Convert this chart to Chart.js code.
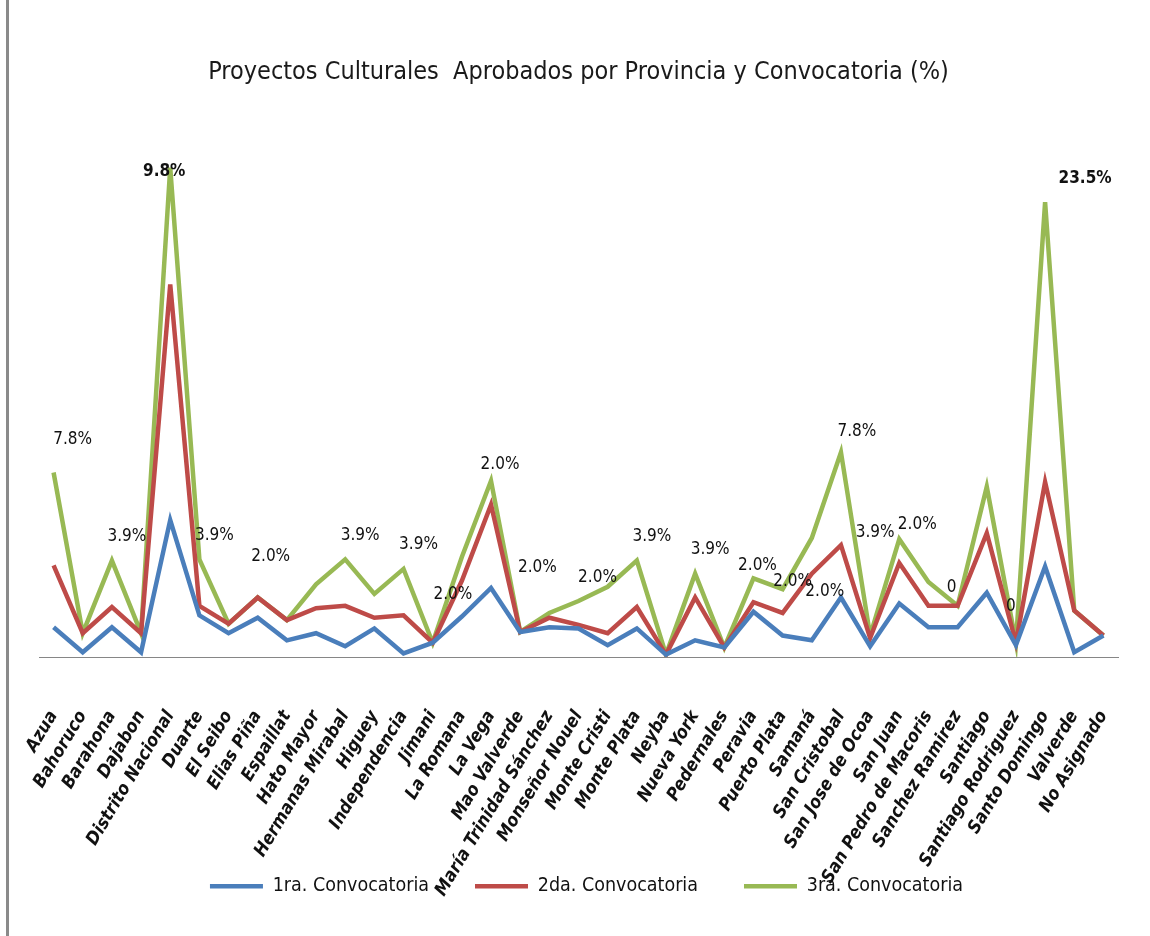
<!DOCTYPE html>
<html lang="es">
<head>
<meta charset="utf-8">
<title>Proyectos Culturales Aprobados</title>
<script src="https://cdn.jsdelivr.net/npm/chart.js@4.4.0/dist/chart.umd.min.js"></script>
<style>
    html, body { margin: 0; padding: 0; background: #fff; }
    #wrap { position: relative; width: 1150px; height: 936px; }
    #wrap::before {
        content: ''; position: absolute; left: 6px; top: 0; bottom: 0;
        width: 3px; background: #8a8a8a;
    }
</style>
</head>
<body>
<div id="wrap"><canvas id="provChart" width="1150" height="936"></canvas></div>
<script>
// ================================================
// DATOS
// ================================================

const provincias = [
    'Azua', 'Bahoruco', 'Barahona', 'Dajabon', 'Distrito Nacional', 'Duarte',
    'El Seibo', 'Elias Piña', 'Espaillat', 'Hato Mayor', 'Hermanas Mirabal',
    'Higuey', 'Independencia', 'Jimani', 'La Romana', 'La Vega', 'Mao Valverde',
    'María Trinidad Sánchez', 'Monseñor Nouel', 'Monte Cristi', 'Monte Plata',
    'Neyba', 'Nueva York', 'Pedernales', 'Peravia', 'Puerto Plata', 'Samaná',
    'San Cristobal', 'San Jose de Ocoa', 'San Juan', 'San Pedro de Macoris',
    'Sanchez Ramirez', 'Santiago', 'Santiago Rodriguez', 'Santo Domingo',
    'Valverde', 'No Asignado'
];

// valores (%) por convocatoria - grafico de lineas apiladas
const conv1 = [2.5, 0.4, 2.5, 0.4, 11.5, 3.5, 2.0, 3.3, 1.4, 2.0, 0.9, 2.4, 0.3, 1.2, 3.4, 5.8, 2.1, 2.5, 2.4,
               1.0, 2.4, 0.2, 1.4, 0.8, 3.8, 1.8, 1.4, 5.0, 0.9, 4.5, 2.5, 2.5, 5.4, 1.0, 7.6, 0.4, 1.8];
const conv2 = [5.2, 1.6, 1.7, 1.6, 19.8, 0.8, 0.8, 1.7, 1.7, 2.1, 3.4, 0.9, 3.2, 0.0, 3.0, 7.0, 0.0, 0.8, 0.3,
               1.0, 1.8, 0.0, 3.6, 0.0, 0.8, 1.9, 5.6, 4.4, 0.7, 3.4, 1.8, 1.8, 5.0, 0.2, 7.1, 3.5, 0.0];
const conv3 = [7.8, 0.0, 3.9, 0.0, 9.8, 3.9, 0.0, 0.0, 0.0, 2.0, 3.9, 2.0, 3.9, 0.0, 2.0, 2.0, 0.0, 0.4, 2.0,
               3.9, 3.9, 0.0, 2.0, 0.0, 2.0, 2.0, 3.0, 7.8, 0.2, 2.0, 2.0, 0.0, 3.9, 0.0, 23.5, 0.0, 0.0];

// etiquetas de datos tal como aparecen sobre la 3ra. convocatoria
const etiquetas = [
    '7.8%', null, '3.9%', null, '9.8%', '3.9%', null, '2.0%', null, null, '3.9%', null, '3.9%', null,
    '2.0%', '2.0%', null, '2.0%', '2.0%', null, '3.9%', null, '3.9%', null, '2.0%', '2.0%', '2.0%',
    '7.8%', '3.9%', '2.0%', null, '0', null, '0', '23.5%', null, null
];

const series = ['1ra. Convocatoria', '2da. Convocatoria', '3ra. Convocatoria'];

// ================================================
// ESTILO
// ================================================

const NARROW = "'Liberation Sans Narrow', 'DejaVu Sans Condensed', 'Arial Narrow', sans-serif";
const colores = ['#4a7ebb', '#be4b48', '#98b954'];

// posicion de cada etiqueta relativa a su punto (dx, dy)
const etiquetaPos = {
    0: [19, -33], 4: [-6, 4], 7: [13, -41], 14: [-9, 38], 15: [9, -16], 17: [-12, -45],
    18: [19, -23], 24: [4, -13], 25: [10, -8], 26: [13, 54], 27: [16, -21], 28: [5, -103],
    29: [18, -15], 31: [-6, -18], 33: [-5, -36], 34: [40, -24]
};

const etiquetasPlugin = {
    id: 'etiquetas',
    afterLayout(chart) {
        // las etiquetas giradas del eje pueden invadir la zona de la leyenda
        chart.scales.x.bottom = chart.height;
        // leyenda algo desplazada a la derecha, como en el original
        chart.legend.left += 8;
        chart.legend.right += 8;
    },
    afterDatasetsDraw(chart) {
        const meta = chart.getDatasetMeta(2);
        const ctx = chart.ctx;
        ctx.save();
        ctx.fillStyle = '#111';
        ctx.textAlign = 'center';
        ctx.textBaseline = 'middle';
        etiquetas.forEach((txt, i) => {
            if (!txt) return;
            const pt = meta.data[i];
            const off = etiquetaPos[i] || [15, -24];
            const bold = (txt === '9.8%' || txt === '23.5%');
            ctx.font = (bold ? 'bold ' : '') + '17px ' + NARROW;
            ctx.fillText(txt, pt.x + off[0], pt.y + off[1]);
        });
        ctx.restore();
    }
};

function makeDataset(label, data, color) {
    return {
        label: label,
        data: data,
        borderColor: color,
        backgroundColor: color,
        borderWidth: 4.5,
        pointRadius: 0,
        pointStyle: 'line',
        tension: 0,
        fill: false
    };
}

// ================================================
// GRAFICO
// ================================================

const ctx = document.getElementById('provChart');

new Chart(ctx, {
    type: 'line',
    data: {
        labels: provincias,
        datasets: [
            makeDataset(series[0], conv1, colores[0]),
            makeDataset(series[1], conv2, colores[1]),
            makeDataset(series[2], conv3, colores[2])
        ]
    },
    options: {
        responsive: false,
        animation: false,
        layout: {
            padding: { left: 39, right: 32, top: 0, bottom: 30 }
        },
        plugins: {
            title: {
                display: true,
                text: 'Proyectos Culturales  Aprobados por Provincia y Convocatoria (%)',
                color: '#1a1a1a',
                font: { size: 25, family: NARROW, weight: 'normal' },
                padding: { top: 57, bottom: 70 }
            },
            legend: {
                display: true,
                position: 'bottom',
                labels: {
                    color: '#111',
                    usePointStyle: true,
                    pointStyle: 'line',
                    pointStyleWidth: 53,
                    boxHeight: 19.5,
                    padding: 46,
                    font: { size: 19.5, family: NARROW }
                }
            },
            tooltip: { enabled: false }
        },
        scales: {
            x: {
                offset: true,
                grid: { display: false },
                border: { display: true, color: '#868686', width: 1 },
                ticks: {
                    autoSkip: false,
                    maxRotation: 59,
                    minRotation: 59,
                    padding: 42,
                    color: '#111',
                    font: { size: 18, family: NARROW, style: 'italic', weight: 'bold' }
                },
                afterFit: (scale) => {
                    scale.height = 173.5;
                    scale.paddingLeft = 0;
                    scale.paddingRight = 0;
                }
            },
            y: {
                display: false,
                stacked: true,
                min: 0,
                max: 42
            }
        }
    },
    plugins: [etiquetasPlugin]
});
</script>
</body>
</html>
